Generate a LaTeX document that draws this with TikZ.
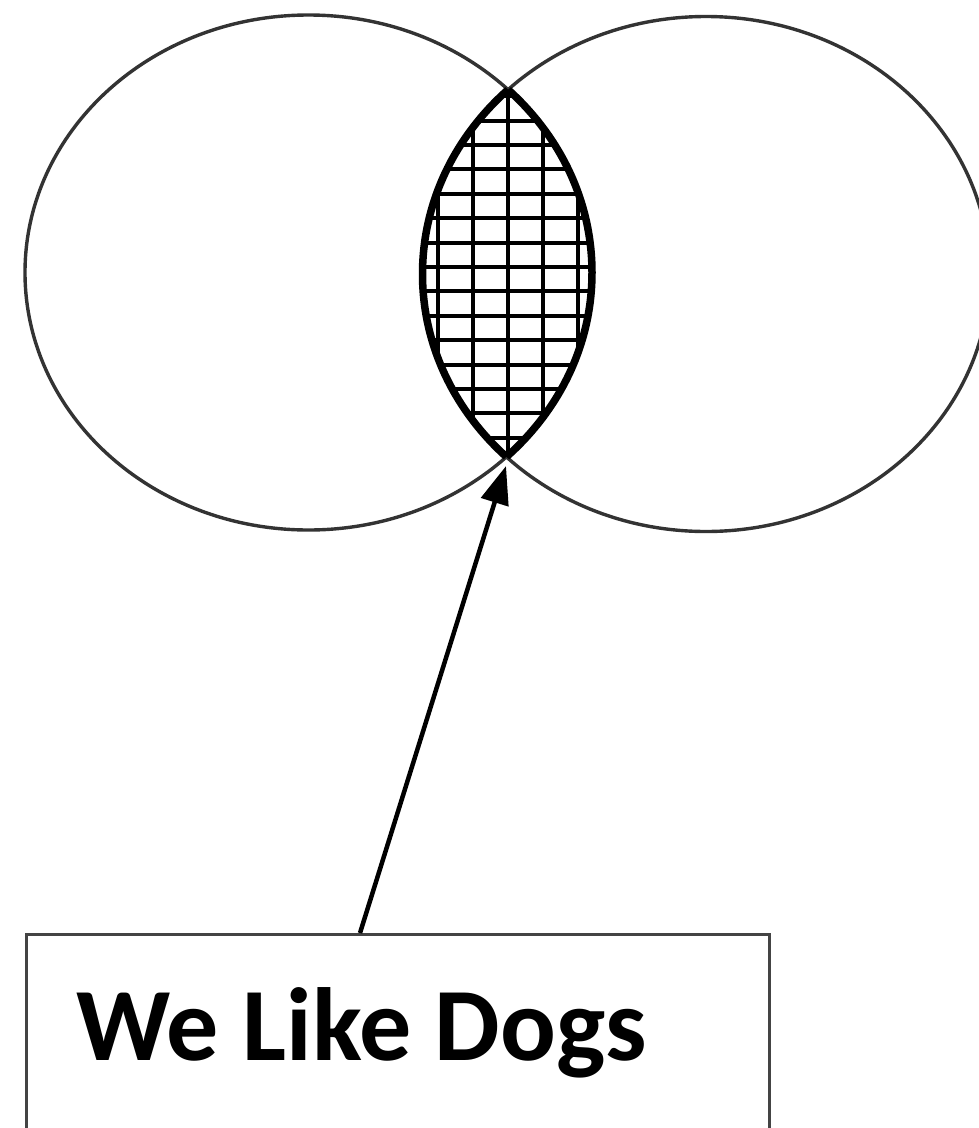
\documentclass[tikz,border=0pt]{standalone}
\usepackage{fontspec}
\newfontfamily\labelfont{Carlito}
\usetikzlibrary{shapes.geometric,arrows.meta}
\definecolor{setgray}{HTML}{333333}
\definecolor{boxgray}{HTML}{444444}
\tikzset{
  setshape/.style={ellipse, draw=setgray, line width=3.4pt, minimum width=567pt, minimum height=515pt, inner sep=0pt},
  lensline/.style={draw=black, line width=7.5pt},
  gridline/.style={draw=black, line width=4pt},
  pointer/.style={draw=black, line width=4.5pt, -{Triangle[length=38pt,width=28pt]}},
  labelbox/.style={draw=boxgray, line width=3.4pt, minimum width=743pt, minimum height=210pt, inner sep=0pt}
}
\begin{document}
\begin{tikzpicture}[x=1pt,y=-1pt]
\useasboundingbox (0,0) rectangle (979,1128);
\fill[white] (0,0) rectangle (979,1128);
% sets
\node[setshape] (L) at (308.5,272.5) {};
\node[setshape] (R) at (706,274) {};
% lens
\begin{scope}
  \clip (308.5,272.5) ellipse [x radius=283.5pt, y radius=257.5pt];
  \clip (706,274) ellipse [x radius=283.5pt, y radius=257.5pt];
  \fill[white] (380,60) rectangle (640,500);
  \foreach \x in {438,473,508,543,578} \draw[gridline] (\x,60) -- (\x,500);
  \foreach \y in {96.2,120.6,145,169.4,193.8,218.2,242.6,267,291.4,315.8,340.2,364.6,389,413.4,437.8,462.2} \draw[gridline] (380,\y) -- (640,\y);
\end{scope}
\begin{scope}
  \clip (706,274) ellipse [x radius=283.5pt, y radius=257.5pt];
  \draw[lensline] (308.5,272.5) ellipse [x radius=283.5pt, y radius=257.5pt];
\end{scope}
\begin{scope}
  \clip (308.5,272.5) ellipse [x radius=283.5pt, y radius=257.5pt];
  \draw[lensline] (706,274) ellipse [x radius=283.5pt, y radius=257.5pt];
\end{scope}
% label box
\node[labelbox, anchor=north west] (box) at (25,933) {};
\node[anchor=base west, inner sep=0pt, font=\labelfont\bfseries\fontsize{104}{104}\selectfont] (txt) at (76,1060) {We Like Dogs};
\coordinate (start) at (360,933);
\coordinate (tip) at (506,466);
\draw[pointer] (start) -- (tip);
\end{tikzpicture}
\end{document}
